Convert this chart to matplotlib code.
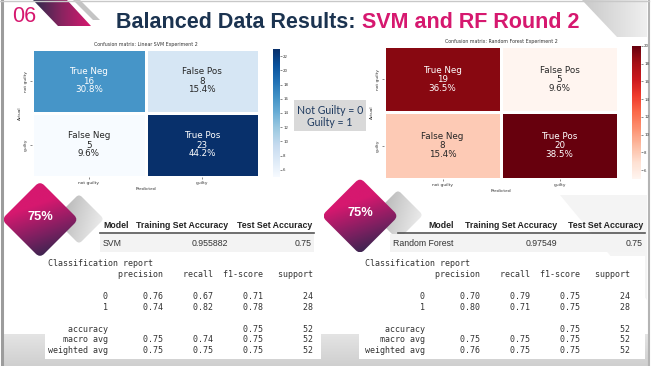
import numpy as np
import matplotlib
matplotlib.use('Agg')
import matplotlib.pyplot as plt
from matplotlib.patches import Polygon, FancyBboxPatch, Rectangle
from matplotlib.colors import LinearSegmentedColormap, to_rgb
import matplotlib.transforms as mtransforms

W, H = 653, 366
fig = plt.figure(figsize=(W / 100, H / 100), dpi=100)
fig.patch.set_facecolor('white')

# ---------------- data ----------------
class_labels = ['not guilty', 'guilty']
cell_names = [['True Neg', 'False Pos'], ['False Neg', 'True Pos']]
svm_cm = [[16, 8], [5, 23]]
rf_cm = [[19, 5], [8, 20]]
svm_title = 'Confusion matrix: Linear SVM Experiment 2'
rf_title = 'Confusion matrix: Random Forest Experiment 2'
svm_cbar_ticks = [6, 8, 10, 12, 14, 16, 18, 20, 22]
rf_cbar_ticks = [6, 8, 10, 12, 14, 16, 18, 20]

table_columns = ['Model', 'Training Set Accuracy', 'Test Set Accuracy']
svm_row = ['SVM', '0.955882', '0.75']
rf_row = ['Random Forest', '0.97549', '0.75']
badge_text = '75%'

report_cols = ['precision', 'recall', 'f1-score', 'support']
report_classes = ['0', '1']
svm_precision = [0.76, 0.74]
svm_recall = [0.67, 0.82]
svm_f1 = [0.71, 0.78]
svm_support = [24, 28]
svm_accuracy = 0.75
svm_macro = [0.75, 0.74, 0.75]
svm_weighted = [0.75, 0.75, 0.75]
rf_precision = [0.70, 0.80]
rf_recall = [0.79, 0.71]
rf_f1 = [0.75, 0.75]
rf_support = [24, 28]
rf_accuracy = 0.75
rf_macro = [0.75, 0.75, 0.75]
rf_weighted = [0.76, 0.75, 0.75]

title_part1 = 'Balanced Data Results: '
title_part2 = 'SVM and RF Round 2'
slide_number = '06'
legend_lines = ['Not Guilty = 0', 'Guilty = 1']

PINK = '#d6186f'
NAVY = '#1b3350'


def px(x, y, w, h):
    return [x / W, 1 - (y + h) / H, w / W, h / H]


# ---------------- background overlay ----------------
bg = fig.add_axes([0, 0, 1, 1], zorder=0)
bg.set_xlim(0, W)
bg.set_ylim(H, 0)
bg.axis('off')


def grad_fill(ax, patch, colors, direction=(0, 1), zorder=1):
    ax.add_patch(patch)
    patch.set_facecolor('none')
    patch.set_edgecolor('none')
    ext = patch.get_window_extent()
    inv = ax.transData.inverted()
    (x0, y0), (x1, y1) = inv.transform([[ext.x0, ext.y0], [ext.x1, ext.y1]])
    xa, xb = min(x0, x1), max(x0, x1)
    ya, yb = min(y0, y1), max(y0, y1)
    n = 100
    gx, gy = np.meshgrid(np.linspace(0, 1, n), np.linspace(0, 1, n))
    t = gx * direction[0] + gy * direction[1]
    t = (t - t.min()) / (t.max() - t.min() + 1e-9)
    cmap = LinearSegmentedColormap.from_list('g', colors)
    im = ax.imshow(t, cmap=cmap, extent=(xa, xb, yb, ya), origin='upper',
                   aspect='auto', zorder=zorder, interpolation='bilinear')
    im.set_clip_path(patch)
    return im


# frame and bottom band
grad_fill(bg, Rectangle((3, 334), 645, 32), ['#e4e4e4', '#cfcfcf'], direction=(0, 1), zorder=1)
bg.plot([1.5, 1.5], [0, H], color='#9c9c9c', lw=2.2, zorder=3)
bg.plot([648.5, 648.5], [0, H], color='#b4b4b4', lw=1.5, zorder=3)
bg.plot([0, 649], [0.5, 0.5], color='#c8c8c8', lw=1.0, zorder=3)

# top-left decorative stripes
grad_fill(bg, Polygon([(33, 0), (67, 0), (91, 26), (58, 26)]),
          ['#2a2a4c', '#8a2460', PINK], direction=(1, 0), zorder=2)
bg.add_patch(Polygon([(73, 0), (80, 0), (100, 20), (93, 20)], facecolor='#c4c4c4',
                     edgecolor='none', zorder=2))
# top-right gray triangle
grad_fill(bg, Polygon([(582, 0), (647, 0), (647, 37), (617, 37)]),
          ['#c9c9c9', '#efefef'], direction=(1, 0), zorder=2)
# faint lower-right decor
bg.add_patch(Polygon([(560, 195), (647, 195), (647, 300)], facecolor='#f4f4f4',
                     edgecolor='none', zorder=1))

# report white boxes
bg.add_patch(Rectangle((45, 256), 276, 103, facecolor='white', edgecolor='none', zorder=2))
bg.add_patch(Rectangle((359, 256), 286, 103, facecolor='white', edgecolor='none', zorder=2))

# ---------------- title ----------------
bg.text(12, 16, slide_number, color=PINK, fontsize=15.5, family='Liberation Sans',
        va='center', ha='left', zorder=5)
t1 = bg.text(116, 28.3, title_part1, color=NAVY, fontsize=15.5, weight='bold',
             family='Liberation Sans', va='baseline', ha='left', zorder=5)
bg.annotate(title_part2, xy=(1, 0), xycoords=t1, va='bottom', ha='left',
            color=PINK, fontsize=15.5, weight='bold', family='Liberation Sans', zorder=5)


# ---------------- confusion matrices ----------------
def rel_lum(c):
    rgb = np.array(to_rgb(c))
    rgb = np.where(rgb <= 0.03928, rgb / 12.92, ((rgb + 0.055) / 1.055) ** 2.4)
    return 0.2126 * rgb[0] + 0.7152 * rgb[1] + 0.0722 * rgb[2]


def draw_cm(rect, crect, data, cmap_name, vmin, vmax, ticks, title):
    data = np.array(data)
    ax = fig.add_axes(px(*rect), zorder=3)
    cmap = plt.get_cmap(cmap_name)
    mesh = ax.pcolormesh(np.arange(3), np.arange(3), data, cmap=cmap, vmin=vmin, vmax=vmax,
                         edgecolor='white', linewidth=1.0)
    ax.set_xlim(0, 2)
    ax.set_ylim(2, 0)
    for s in ax.spines.values():
        s.set_visible(False)
    ax.set_xticks([0.5, 1.5])
    ax.set_xticklabels(class_labels, fontsize=3.2, color='#333333')
    ax.set_yticks([0.5, 1.5])
    ax.set_yticklabels(class_labels, fontsize=3.2, rotation=90, va='center', color='#333333')
    ax.tick_params(length=1.5, width=0.4, pad=1.5, colors='#333333')
    ax.set_xlabel('Predicted', fontsize=3.2, labelpad=1.5, color='#333333')
    ax.set_ylabel('Actual', fontsize=3.2, labelpad=1.5, color='#333333')
    ax.set_title(title, fontsize=3.4, pad=2, color='#333333')
    total = data.sum()
    for i in range(2):
        for j in range(2):
            v = data[i, j]
            col = cmap((v - vmin) / (vmax - vmin))
            tc = '#262626' if rel_lum(col) > 0.408 else 'white'
            ax.text(j + 0.5, i + 0.5, f'{cell_names[i][j]}\n{v}\n{v / total:.1%}',
                    ha='center', va='center', fontsize=6.3, color=tc, linespacing=1.0)
    cax = fig.add_axes(px(*crect), zorder=3)
    cb = fig.colorbar(mesh, cax=cax)
    cb.outline.set_visible(False)
    cb.set_ticks(ticks)
    cax.tick_params(labelsize=2.8, length=1.2, width=0.4, pad=1, colors='#333333')
    return ax


draw_cm((32, 49, 227, 128), (273, 49, 7, 128), svm_cm, 'Blues', 5, 23, svm_cbar_ticks, svm_title)
draw_cm((384, 46, 234, 133), (632, 46, 9, 133), rf_cm, 'Reds', 5, 20, rf_cbar_ticks, rf_title)

# ---------------- foreground overlay ----------------
fg = fig.add_axes([0, 0, 1, 1], zorder=4)
fg.set_xlim(0, W)
fg.set_ylim(H, 0)
fg.axis('off')
fg.patch.set_alpha(0)

# legend box
fg.add_patch(Rectangle((294, 100), 72, 31, facecolor='#d9d9d9', edgecolor='none', zorder=2))
fg.text(330, 110, legend_lines[0], fontsize=7.6, family='Lato', color='#1f3a5f',
        ha='center', va='center', zorder=3)
fg.text(330, 122.5, legend_lines[1], fontsize=7.6, family='Lato', color='#1f3a5f',
        ha='center', va='center', zorder=3)


def diamond(ax, cx, cy, half, colors, direction, rounding, zorder):
    s = half * np.sqrt(2)
    p = FancyBboxPatch((cx - s / 2, cy - s / 2), s, s,
                       boxstyle=f'round,pad=0,rounding_size={rounding}')
    p.set_transform(mtransforms.Affine2D().rotate_deg_around(cx, cy, 45) + ax.transData)
    grad_fill(ax, p, colors, direction=direction, zorder=zorder)


def badge(cx, cy, gx, gy, label):
    diamond(fg, gx, gy, 25, ['#a9a9a9', '#d0d0d0', '#f2f2f2'], (1, 0.3), 4, 2)
    diamond(fg, cx, cy, 38.5, [PINK, PINK, '#7a2060', '#1c2748'], (0.35, 1), 6, 3)
    fg.text(cx, cy - 3, label, color='white', fontsize=9.3, weight='bold',
            family='Liberation Sans', ha='center', va='center', zorder=4)


badge(40, 219.5, 79, 219, badge_text)
badge(360, 216, 398, 215, badge_text)


# tables
def table(x_cols, aligns, row_x, row_aligns, line_x, bg_x, row):
    hy, ry = 225.5, 243.5
    for name, x, a in zip(table_columns, x_cols, aligns):
        fg.text(x, hy, name, fontsize=6.3, weight='bold', family='Liberation Sans',
                color='#222222', ha=a, va='center', zorder=3)
    fg.plot(line_x, [233, 233], color='#555555', lw=1.2, zorder=3)
    fg.add_patch(Rectangle((bg_x[0], 234), bg_x[1] - bg_x[0], 18, facecolor='#f3f3f3',
                           edgecolor='none', zorder=2))
    for val, x, a in zip(row, row_x, row_aligns):
        fg.text(x, ry, val, fontsize=6.3, family='Liberation Sans', color='#333333',
                ha=a, va='center', zorder=3)


table([103, 228, 312], ['left', 'right', 'right'], [103, 228, 312], ['left', 'right', 'right'],
      [100, 314], (100, 314), svm_row)
table([454, 557, 643], ['right', 'right', 'right'], [393, 557, 643], ['left', 'right', 'right'],
      [398, 645], (390, 645), rf_row)


# classification reports
def report_lines(prec, rec, f1, sup, acc, macro, weighted):
    width = 12
    lines = ['Classification report']
    lines.append(' ' * width + ' ' + ''.join(' {:>9}'.format(c) for c in report_cols))
    lines.append('')
    for k, c in enumerate(report_classes):
        lines.append('{:>{w}s} '.format(c, w=width) +
                     ''.join(' {:>9.2f}'.format(v) for v in (prec[k], rec[k], f1[k])) +
                     ' {:>9}'.format(sup[k]))
    lines.append('')
    tot = sum(sup)
    lines.append('{:>{w}s} '.format('accuracy', w=width) + ' ' * 20 +
                 ' {:>9.2f}'.format(acc) + ' {:>9}'.format(tot))
    for nm, vals in (('macro avg', macro), ('weighted avg', weighted)):
        lines.append('{:>{w}s} '.format(nm, w=width) +
                     ''.join(' {:>9.2f}'.format(v) for v in vals) + ' {:>9}'.format(tot))
    return lines


def draw_report(x0, lines):
    for i, ln in enumerate(lines):
        fg.text(x0, 264 + i * 10.85, ln, fontsize=6.05, family='DejaVu Sans Mono',
                color='#333333', ha='left', va='center', zorder=3)


draw_report(48, report_lines(svm_precision, svm_recall, svm_f1, svm_support,
                             svm_accuracy, svm_macro, svm_weighted))
draw_report(365, report_lines(rf_precision, rf_recall, rf_f1, rf_support,
                              rf_accuracy, rf_macro, rf_weighted))

fig.savefig('out.png', dpi=100, facecolor='white')
